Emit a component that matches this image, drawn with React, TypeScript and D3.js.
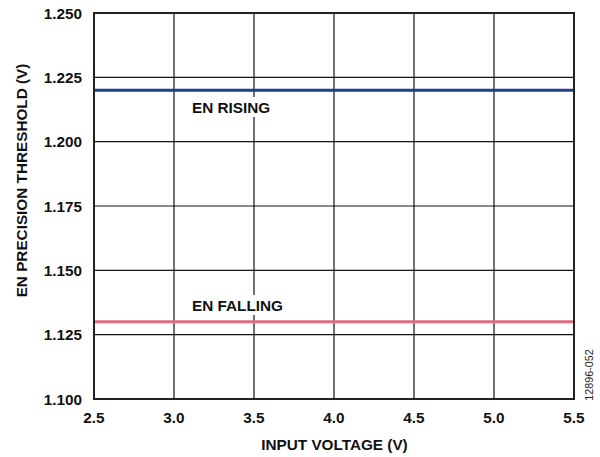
import React from "react";
import * as d3 from "d3";

const xTicks = [2.5, 3.0, 3.5, 4.0, 4.5, 5.0, 5.5];
const yTicks = [1.1, 1.125, 1.15, 1.175, 1.2, 1.225, 1.25];
const risingX = [2.5, 5.5];
const risingY = [1.22, 1.22];
const fallingX = [2.5, 5.5];
const fallingY = [1.13, 1.13];

const W = 600, H = 457;
const L = 94, R = 574, T = 13, B = 399;

export default function App() {
  const x = d3.scaleLinear().domain([2.5, 5.5]).range([L, R]);
  const y = d3.scaleLinear().domain([1.1, 1.25]).range([B, T]);
  const line = d3.line<[number, number]>().x(d => x(d[0])).y(d => y(d[1]));
  const rising = risingX.map((v, i) => [v, risingY[i]] as [number, number]);
  const falling = fallingX.map((v, i) => [v, fallingY[i]] as [number, number]);
  const font = "Arial, 'Liberation Sans', Helvetica, sans-serif";
  const fs = 15.3;
  return (
    <svg width={W} height={H} style={{ position: "absolute", left: 0, top: 0 }} fontFamily={font}>
      <rect width={W} height={H} fill="#fff" />
      {xTicks.slice(1, -1).map(t => (
        <line key={"gx" + t} x1={x(t)} x2={x(t)} y1={T} y2={B} stroke="#111" strokeWidth={1.2} />
      ))}
      {yTicks.slice(1, -1).map(t => (
        <line key={"gy" + t} x1={L} x2={R} y1={y(t)} y2={y(t)} stroke="#111" strokeWidth={1.2} />
      ))}
      <path d={line(rising) || ""} stroke="#1d3f8c" strokeWidth={3} fill="none" />
      <path d={line(falling) || ""} stroke="#e26b80" strokeWidth={3} fill="none" />
      <rect x={189} y={97} width={88} height={20} fill="#fff" />
      <text x={192} y={112.7} fontSize={fs} fontWeight="bold" fill="#111">EN RISING</text>
      <rect x={189} y={295} width={100} height={20} fill="#fff" />
      <text x={192} y={310.7} fontSize={fs} fontWeight="bold" fill="#111">EN FALLING</text>
      <rect x={L} y={T} width={R - L} height={B - T} fill="none" stroke="#222" strokeWidth={2} />
      {yTicks.map(t => (
        <text key={"ty" + t} x={82} y={y(t) + 5.5} textAnchor="end" fontSize={fs} fontWeight="bold" fill="#111">
          {t.toFixed(3)}
        </text>
      ))}
      {xTicks.map(t => (
        <text key={"tx" + t} x={x(t)} y={423.3} textAnchor="middle" fontSize={fs} fontWeight="bold" fill="#111">
          {t.toFixed(1)}
        </text>
      ))}
      <text x={334.5} y={450} textAnchor="middle" fontSize={fs} fontWeight="bold" fill="#111">
        INPUT VOLTAGE (V)
      </text>
      <text transform={`translate(26.7,180.5) rotate(-90)`} textAnchor="middle" fontSize={fs} fontWeight="bold" fill="#111">
        EN PRECISION THRESHOLD (V)
      </text>
      <text transform={`translate(593,375) rotate(-90)`} textAnchor="middle" fontSize={10.8} fill="#222">
        12896-052
      </text>
    </svg>
  );
}
